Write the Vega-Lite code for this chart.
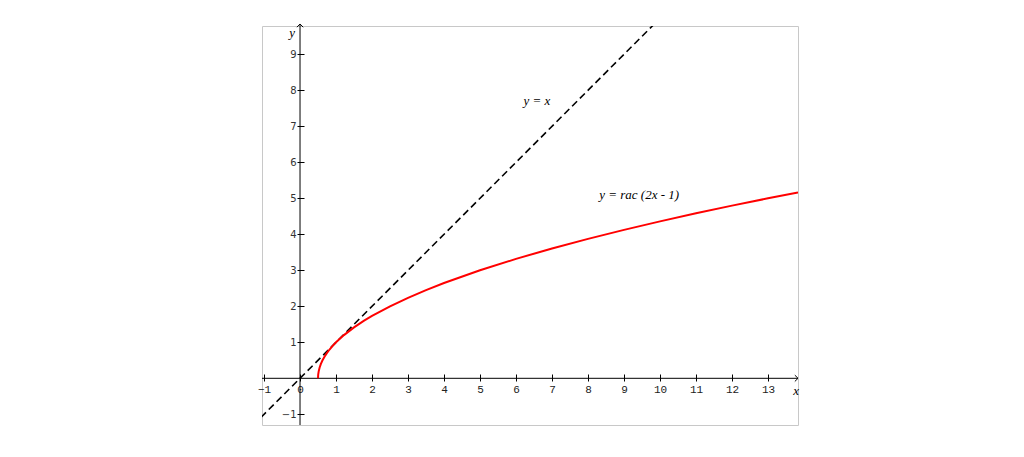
{
  "$schema": "https://vega.github.io/schema/vega-lite/v6.json",
  "width": 536,
  "height": 399,
  "autosize": "none",
  "padding": {"left": 262, "top": 26, "right": 226, "bottom": 32},
  "background": "white",
  "config": {"view": {"stroke": "#c8c8c8", "strokeWidth": 1}},
  "encoding": {
    "x": {
      "field": "x", "type": "quantitative",
      "scale": {"domain": [-1.056, 13.833], "nice": false, "zero": false},
      "axis": {
        "orient": "bottom", "offset": -51, "domain": false, "grid": false,
        "values": [-1, 0, 1, 2, 3, 4, 5, 6, 7, 8, 9, 10, 11, 12, 13],
        "tickSize": 7, "tickColor": "black", "tickWidth": 1,
        "labelFont": "Liberation Mono", "labelFontSize": 11, "labelColor": "#222",
        "labelPadding": 2, "labelFlush": false, "labelOverlap": false, "title": null
      }
    },
    "y": {
      "field": "y", "type": "quantitative",
      "scale": {"domain": [-1.297, 9.786], "nice": false, "zero": false},
      "axis": {
        "orient": "left", "offset": -42, "domain": false, "grid": false,
        "values": [-1, 1, 2, 3, 4, 5, 6, 7, 8, 9],
        "tickSize": 7, "tickColor": "black", "tickWidth": 1,
        "labelFont": "DejaVu Sans", "labelFontSize": 10, "labelColor": "#333",
        "labelPadding": 1, "labelFlush": false, "labelOverlap": false, "title": null
      }
    }
  },
  "layer": [
    {
      "data": {"values": [{"x": -1.056, "x2": 13.833, "y": 0}]},
      "mark": {"type": "rule", "color": "black", "strokeWidth": 1, "clip": false},
      "encoding": {"x2": {"field": "x2"}}
    },
    {
      "data": {"values": [{"x": 0, "y": -1.297, "y2": 9.84}]},
      "mark": {"type": "rule", "color": "black", "strokeWidth": 1, "clip": false},
      "encoding": {"y2": {"field": "y2"}}
    },
    {
      "data": {"values": [{"x": -1.3, "y": -1.3}, {"x": 10.2, "y": 10.2}]},
      "mark": {"type": "line", "color": "black", "strokeWidth": 1.6, "strokeDash": [7, 4], "clip": true},
      "encoding": {}
    },
    {
      "data": {"values": [
        {"x": 0.5, "y": 0}, {"x": 0.505, "y": 0.1}, {"x": 0.52, "y": 0.2}, {"x": 0.545, "y": 0.3},
        {"x": 0.58, "y": 0.4}, {"x": 0.625, "y": 0.5}, {"x": 0.68, "y": 0.6}, {"x": 0.745, "y": 0.7},
        {"x": 0.82, "y": 0.8}, {"x": 0.905, "y": 0.9}, {"x": 1.0, "y": 1.0}, {"x": 1.22, "y": 1.2},
        {"x": 1.5, "y": 1.414}, {"x": 1.78, "y": 1.6}, {"x": 2.0, "y": 1.732}, {"x": 2.5, "y": 2.0},
        {"x": 3.0, "y": 2.236}, {"x": 3.5, "y": 2.449}, {"x": 4.0, "y": 2.646}, {"x": 5.0, "y": 3.0},
        {"x": 6.0, "y": 3.317}, {"x": 7.0, "y": 3.606}, {"x": 8.0, "y": 3.873}, {"x": 9.0, "y": 4.123},
        {"x": 10.0, "y": 4.359}, {"x": 11.0, "y": 4.583}, {"x": 12.0, "y": 4.796}, {"x": 13.0, "y": 5.0},
        {"x": 13.833, "y": 5.163}
      ]},
      "mark": {"type": "line", "color": "#ff0000", "strokeWidth": 2, "clip": true},
      "encoding": {}
    },
    {
      "data": {"values": [{"x": 0, "y": 9.84}]},
      "mark": {"type": "point", "shape": "M-1,1L0,0L1,1", "size": 40, "filled": false, "stroke": "black", "strokeWidth": 1, "opacity": 1, "clip": false},
      "encoding": {}
    },
    {
      "data": {"values": [{"x": 13.833, "y": 0}]},
      "mark": {"type": "point", "shape": "M-1,-1L0,0L-1,1", "size": 40, "filled": false, "stroke": "black", "strokeWidth": 1, "opacity": 1, "clip": false},
      "encoding": {}
    },
    {
      "data": {"values": [
        {"x": 6.58, "y": 7.7, "label": "y = x"},
        {"x": 9.42, "y": 5.09, "label": "y = rac (2x - 1)"},
        {"x": -0.22, "y": 9.6, "label": "y"},
        {"x": 13.78, "y": -0.35, "label": "x"}
      ]},
      "mark": {"type": "text", "font": "Liberation Serif", "fontStyle": "italic", "fontSize": 13, "color": "black", "align": "center", "baseline": "middle", "clip": false},
      "encoding": {"text": {"field": "label"}}
    }
  ]
}
